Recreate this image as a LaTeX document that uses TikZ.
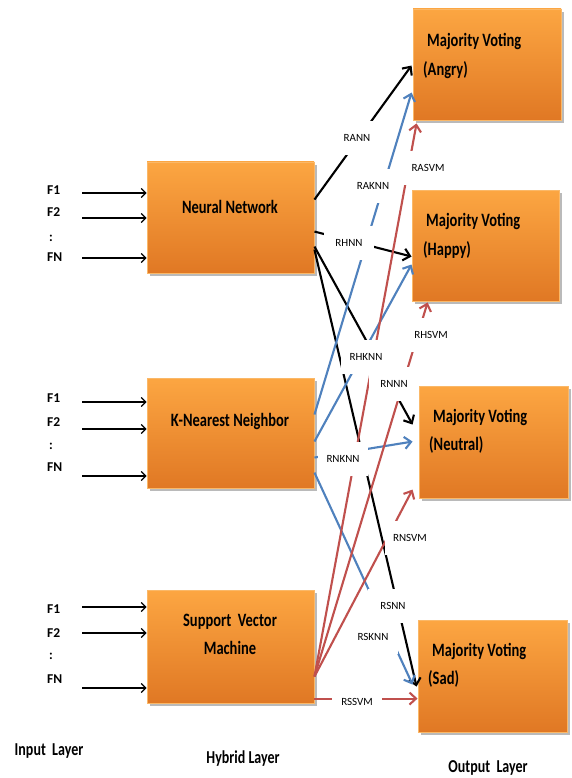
\documentclass[tikz,border=0pt]{standalone}
\usepackage{fontspec}
\usepackage{graphicx}
\setmainfont{Carlito}
\usetikzlibrary{arrows.meta,shadows,calc}

\definecolor{boxtop}{RGB}{252,166,66}
\definecolor{boxbot}{RGB}{224,120,36}
\definecolor{boxedge}{RGB}{250,184,104}
\definecolor{cblue}{RGB}{79,129,189}
\definecolor{cred}{RGB}{192,80,77}

% narrow, tall lettering used on the boxes and layer captions
\newcommand{\tallword}[1]{\scalebox{1}[1.3]{#1}}

\begin{document}
\begin{tikzpicture}[x=1pt,y=-1pt,
  box/.style={draw=boxedge, line width=0.9pt, top color=boxtop, bottom color=boxbot,
    inner sep=0pt,
    drop shadow={shadow xshift=2.5pt, shadow yshift=-3pt, fill=black!60, opacity=0.45}},
  boxtext/.style={font=\bfseries\fontsize{14.5}{16}\selectfont, inner sep=0pt},
  laytext/.style={font=\bfseries\fontsize{14}{16}\selectfont, inner sep=0pt},
  feat/.style={font=\bfseries\fontsize{13.5}{15}\selectfont, inner sep=0pt, anchor=west},
  inarr/.style={line width=1.2pt, -{Straight Barb[length=4.5pt,width=9pt]}},
  conn/.style={line width=2.1pt, -{Straight Barb[length=6.5pt,width=12pt]}},
  lbl/.style={fill=white, font=\fontsize{11}{12}\selectfont, minimum width=50pt, minimum height=34pt, inner sep=0pt}
]
\fill[white] (0,0) rectangle (572,778);
\useasboundingbox (0,0) rectangle (572,778);

% ---------- hybrid layer ----------
\node[box, minimum width=167pt, minimum height=111pt] (nn)  at (230.5,217.5) {};
\node[box, minimum width=167pt, minimum height=110pt] (knn) at (230.5,433) {};
\node[box, minimum width=167pt, minimum height=113pt] (svm) at (230.5,646.5) {};

\node[boxtext] (nnT)   at (230,207) {\tallword{Neural Network}};
\node[boxtext] (knnT)  at (230,421) {\tallword{K-Nearest Neighbor}};
\node[boxtext] (svmT1) at (230,622) {\tallword{Support\ \ Vector}};
\node[boxtext] (svmT2) at (230,648) {\tallword{Machine}};

% ---------- output layer ----------
\node[box, minimum width=148pt, minimum height=111pt] (ang) at (487,64.5) {};
\node[box, minimum width=147pt, minimum height=111pt] (hap) at (485.5,245.5) {};
\node[box, minimum width=149pt, minimum height=112pt] (neu) at (493.5,442) {};
\node[box, minimum width=149pt, minimum height=112pt] (sad) at (492.5,676) {};

\node[boxtext, anchor=west] (angT1) at (427,41)  {\tallword{Majority Voting}};
\node[boxtext, anchor=west] (angT2) at (423,70)  {\tallword{(Angry)}};
\node[boxtext, anchor=west] (hapT1) at (426,221) {\tallword{Majority Voting}};
\node[boxtext, anchor=west] (hapT2) at (423,250) {\tallword{(Happy)}};
\node[boxtext, anchor=west] (neuT1) at (433,417) {\tallword{Majority Voting}};
\node[boxtext, anchor=west] (neuT2) at (429,445) {\tallword{(Neutral)}};
\node[boxtext, anchor=west] (sadT1) at (432,651) {\tallword{Majority Voting}};
\node[boxtext, anchor=west] (sadT2) at (428,679) {\tallword{(Sad)}};

% ---------- input features ----------
\node[feat] (f1a) at (47,190) {F1};
\node[feat] (f2a) at (47,212) {F2};
\node[feat] (fda) at (49,238) {:};
\node[feat] (fna) at (47,257) {FN};
\coordinate (ia1) at (82,193);
\coordinate (ia2) at (82,218);
\coordinate (ia3) at (82,258);
\draw[inarr] (ia1) -- (ia1 -| nn.west);
\draw[inarr] (ia2) -- (ia2 -| nn.west);
\draw[inarr] (ia3) -- (ia3 -| nn.west);

\node[feat] (f1b) at (47,398) {F1};
\node[feat] (f2b) at (47,422) {F2};
\node[feat] (fdb) at (49,446) {:};
\node[feat] (fnb) at (47,467) {FN};
\coordinate (ib1) at (82,402);
\coordinate (ib2) at (82,429);
\coordinate (ib3) at (82,476);
\draw[inarr] (ib1) -- (ib1 -| knn.west);
\draw[inarr] (ib2) -- (ib2 -| knn.west);
\draw[inarr] (ib3) -- (ib3 -| knn.west);

\node[feat] (f1c) at (47,609) {F1};
\node[feat] (f2c) at (47,633) {F2};
\node[feat] (fdc) at (49,656) {:};
\node[feat] (fnc) at (47,679) {FN};
\coordinate (ic1) at (82,607);
\coordinate (ic2) at (82,633);
\coordinate (ic3) at (82,688);
\draw[inarr] (ic1) -- (ic1 -| svm.west);
\draw[inarr] (ic2) -- (ic2 -| svm.west);
\draw[inarr] (ic3) -- (ic3 -| svm.west);

% ---------- connector end points ----------
\coordinate (nnA) at ($(nn.north east)+(0,38)$);
\coordinate (nnH) at ($(nn.north east)+(0,70)$);
\coordinate (nnN) at ($(nn.north east)+(0,85)$);
\coordinate (nnS) at ($(nn.north east)+(0,88)$);
\coordinate (knnA) at ($(knn.north east)+(0,37)$);
\coordinate (knnH) at ($(knn.north east)+(0,64)$);
\coordinate (knnN) at ($(knn.north east)+(0,80)$);
\coordinate (knnS) at ($(knn.north east)+(0,95)$);
\coordinate (svmF) at ($(svm.north east)+(0,87)$);
\coordinate (svmS) at ($(svm.north east)+(0,109)$);

\coordinate (angNN)  at ($(ang.north west)+(-1,57)$);
\coordinate (angKNN) at ($(ang.north west)+(-1,84)$);
\coordinate (angSVM) at ($(ang.south west)+(4,3)$);
\coordinate (hapNN)  at ($(hap.north west)+(0,67)$);
\coordinate (hapKNN) at ($(hap.north west)+(0,75)$);
\coordinate (hapSVM) at ($(hap.south west)+(16,1)$);
\coordinate (neuNN)  at ($(neu.north west)+(-6,39)$);
\coordinate (neuKNN) at ($(neu.north west)+(-6,56)$);
\coordinate (neuSVM) at ($(neu.north west)+(-6,104)$);
\coordinate (sadNN)  at ($(sad.north west)+(-1,67)$);
\coordinate (sadKNN) at ($(sad.north west)+(-5,65)$);
\coordinate (sadSVM) at ($(sad.north west)+(0,79)$);

% ---------- connectors ----------
\draw[conn, black] (nnA) -- (angNN);
\draw[conn, black] (nnH) -- (hapNN);
\draw[conn, black] (nnN) -- (neuNN);
\draw[conn, black] (nnS) -- (sadNN);

\draw[conn, cblue] (knnA) -- (angKNN);
\draw[conn, cblue] (knnH) -- (hapKNN);
\draw[conn, cblue] (knnN) -- (neuKNN);
\draw[conn, cblue] (knnS) -- (sadKNN);

\draw[conn, cred] (svmF) -- (angSVM);
\draw[conn, cred] (svmF) -- (hapSVM);
\draw[conn, cred] (svmF) -- (neuSVM);
\draw[conn, cred] (svmS) -- (sadSVM);

% ---------- connector labels ----------
\node[lbl] (lANN)   at (357,138) {RANN};
\node[lbl] (lAKNN)  at (373,186) {RAKNN};
\node[lbl] (lASVM)  at (428,168) {RASVM};
\node[lbl] (lHNN)   at (349,243) {RHNN};
\node[lbl] (lHKNN)  at (366,357) {RHKNN};
\node[lbl] (lHSVM)  at (431,335) {RHSVM};
\node[lbl] (lNNN)   at (394,384) {RNNN};
\node[lbl] (lNKNN)  at (343,459) {RNKNN};
\node[lbl] (lNSVM)  at (410,538) {RNSVM};
\node[lbl] (lSNN)   at (393,606) {RSNN};
\node[lbl] (lSKNN)  at (373,637) {RSKNN};
\node[lbl] (lSSVM)  at (357,702) {RSSVM};

% ---------- layer captions ----------
\node[laytext] (capIn)  at (49,751)  {\tallword{Input\ \ Layer}};
\node[laytext] (capHy)  at (243,759) {\tallword{Hybrid Layer}};
\node[laytext] (capOut) at (488,768) {\tallword{Output\ \ Layer}};
\end{tikzpicture}
\end{document}
